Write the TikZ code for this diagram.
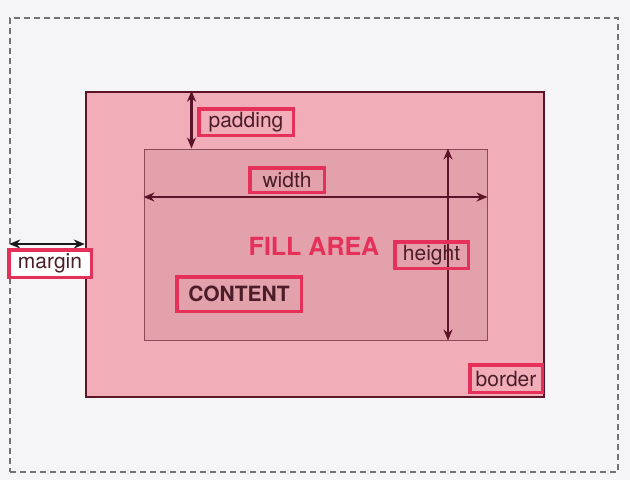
\documentclass[tikz,border=0pt]{standalone}
\usepackage{fontspec}
\setmainfont{TeX Gyre Heros}
\usepackage{tikz}
\usetikzlibrary{arrows.meta,positioning}
\definecolor{bgcol}{RGB}{245,245,247}
\definecolor{borderfill}{RGB}{242,174,184}
\definecolor{borderline}{RGB}{92,21,40}
\definecolor{contentfill}{RGB}{227,161,171}
\definecolor{contentline}{RGB}{140,74,88}
\definecolor{labelred}{RGB}{229,48,90}
\definecolor{textcol}{RGB}{74,29,40}

\begin{document}
\begin{tikzpicture}[x=1pt, y=-1pt,
    box/.style={rectangle, inner sep=0pt},
    tag/.style={box, draw=labelred, line width=3.5pt, text=textcol,
                font=\fontsize{21}{24}\selectfont},
    dim/.style={draw=borderline, line width=2.2pt, {Stealth[length=11pt,width=9pt]}-{Stealth[length=11pt,width=9pt]}}]
    \fill[bgcol] (0,0) rectangle (630,480);

    % the three boxes
    \node[box, draw=black!55, dash pattern=on 6pt off 4pt, line width=1.5pt,
          minimum width=608, minimum height=454] (M) at (314,245) {};
    \node[box, fill=borderfill, draw=borderline, line width=2.5pt,
          minimum width=458, minimum height=305] (B) at (315,244.5) {};
    \node[box, fill=contentfill, draw=contentline, line width=1pt,
          minimum width=343, minimum height=191] (C) at (315.5,244.5) {};

    \coordinate (padX) at (191.5,0);
    \coordinate (widY) at (0,197);
    \coordinate (heiX) at (448,0);
    \coordinate (marY) at (0,244);

    % dimension arrows
    \draw[dim] (B.north -| padX) -- (C.north -| padX);
    \draw[dim] (C.west |- widY) -- (C.east |- widY);
    \draw[dim] (C.north -| heiX) -- (C.south -| heiX);
    \draw[dim, draw=black!90] (M.west |- marY) -- (B.west |- marY);

    % labels
    \node[tag, minimum width=94.5, minimum height=26.5] (pad) at (246,122) {padding};
    \node[tag, minimum width=74.5, minimum height=24.5] (wid) at (287,180) {width};
    \node[tag, minimum width=73.5, minimum height=26.5] (hei) at (431.5,255) {height};
    \node[tag, fill=white, minimum width=82.5, minimum height=27.5] (mar) at (50,263.5) {margin};
    \node[tag, minimum width=72.5, minimum height=27.5] (bor) at (506,378.5) {border};
    \node[tag, minimum width=124.5, minimum height=34.5,
          font=\fontsize{21}{24}\selectfont\bfseries] (con) at (239,294) {CONTENT};
    \node[text=labelred, font=\fontsize{25}{28}\selectfont\bfseries] (fill) at (314,246) {FILL AREA};
\end{tikzpicture}
\end{document}
